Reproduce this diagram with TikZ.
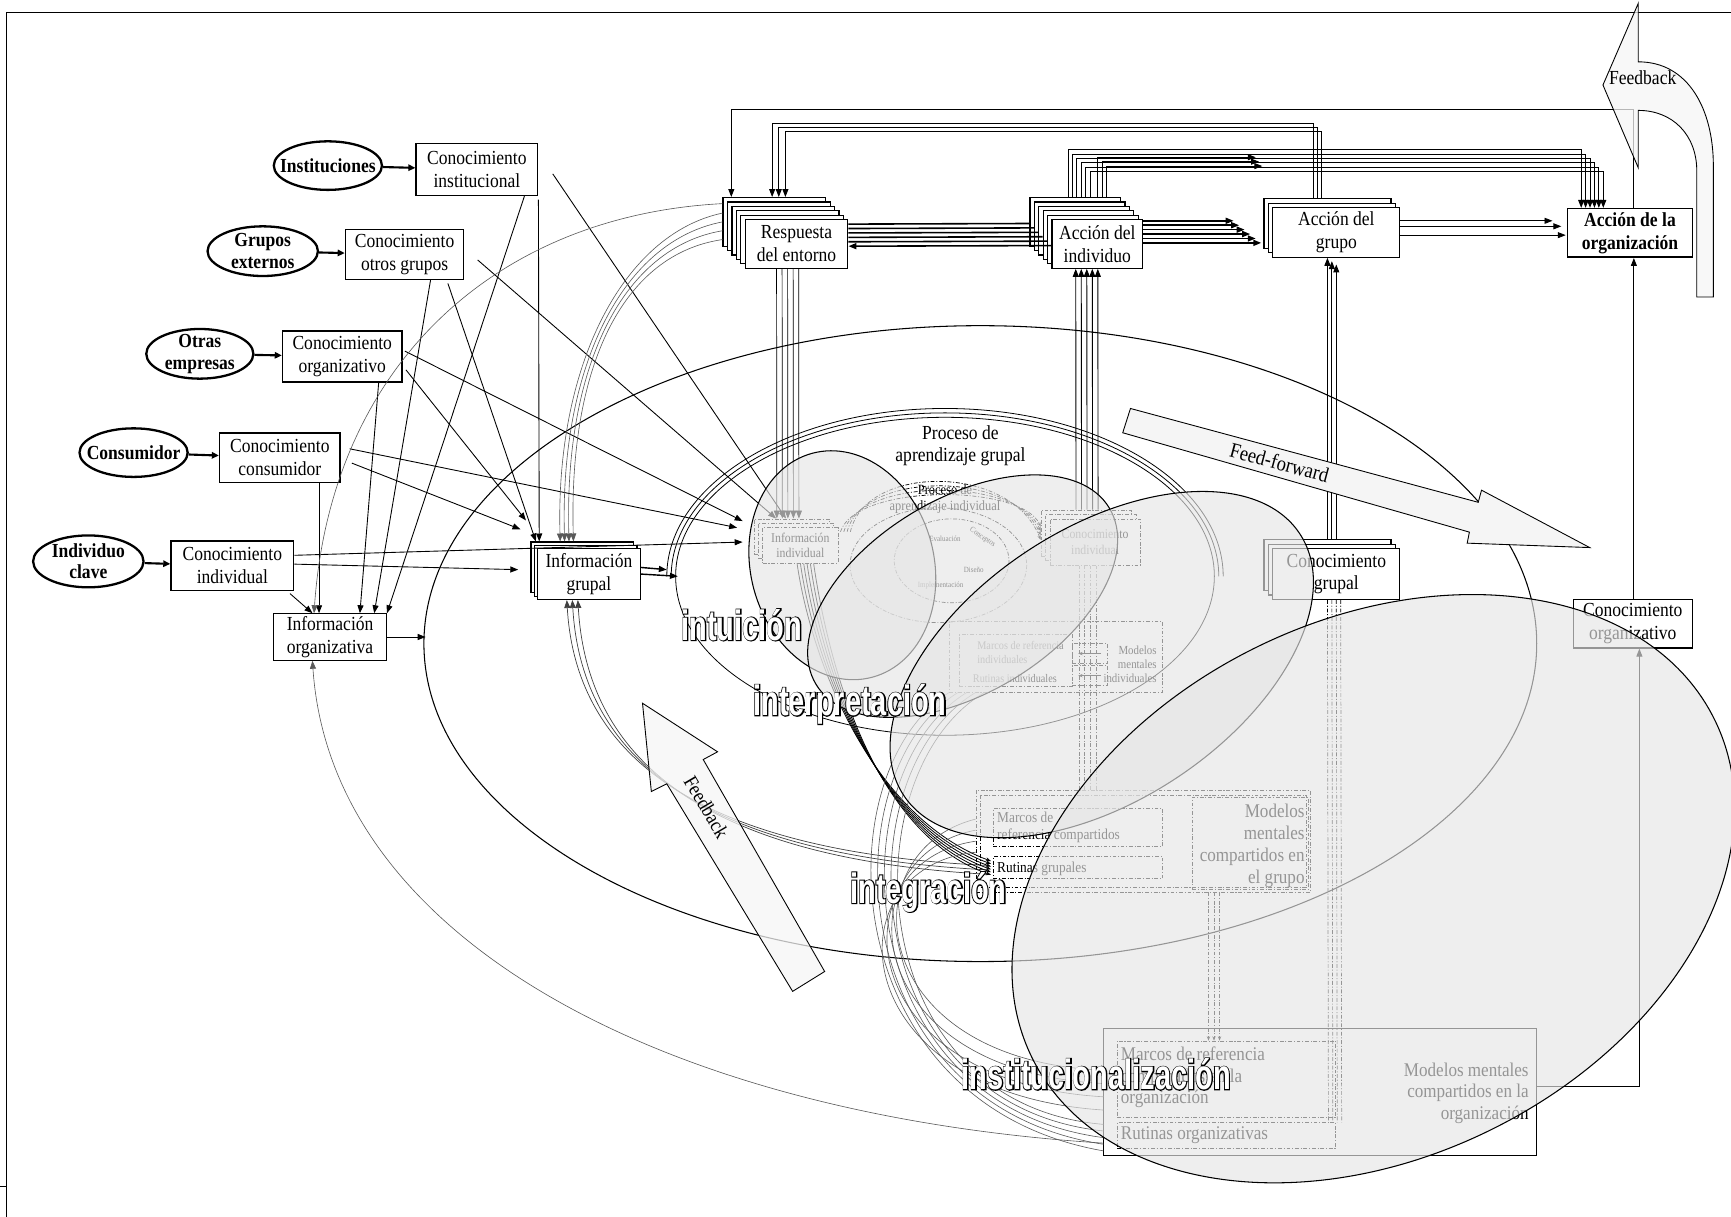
\documentclass[tikz,border=0pt]{standalone}
\usepackage{fontspec}
\setmainfont{Liberation Serif}[FakeStretch=0.88]
\newfontfamily\wordfont{Liberation Sans}[FakeStretch=0.685]
\newfontfamily\rimfont{Liberation Sans}[FakeStretch=0.685, FakeBold=4.5]
\usetikzlibrary{arrows.meta,shapes.geometric,calc}

% white letters with a black rim, used for the four stage names
\newcommand\rimtext[1]{\leavevmode\rlap{\rimfont\bfseries #1}{\color{white}#1}}

\begin{document}
\begin{tikzpicture}[x=0.022cm, y=-0.022cm,
  sz/.style 2 args={minimum width=#1*0.022cm, minimum height=#2*0.022cm},
  mtxt/.style={font=\fontsize{11.3}{13}\selectfont},
  kbox/.style={draw, fill=white, line width=0.9pt, align=center, inner sep=1pt, mtxt},
  abox/.style={draw, fill=white, line width=0.7pt, align=center, inner sep=1pt, mtxt},
  src/.style={ellipse, draw, line width=1.3pt, fill=white, inner sep=0pt},
  srct/.style={align=center, inner sep=0pt, font=\fontsize{11.3}{12.2}\selectfont\bfseries},
  hd/.style={-{Triangle[length=4.5pt,width=3.4pt]}},
  lnk/.style={line width=0.5pt, hd},
  feed/.style={line width=1.2pt, -{Triangle[length=4pt,width=3.6pt]}},
  fat/.style={line width=0.9pt},
  faint/.style={line width=0.35pt, black!65},
  dsh/.style={line width=0.4pt, dash pattern=on 2.2pt off 1pt on 0.6pt off 1pt},
  ibox/.style={draw, dsh, align=center, inner sep=0.5pt},
  lbl/.style={inner sep=0pt},
  fog/.style={fill=black!10, fill opacity=0.65, draw=black, line width=0.6pt},
  bigarrow/.style={fill=black!4, draw=black, line width=0.5pt},
  word/.style={font=\wordfont\bfseries\fontsize{24}{24}\selectfont, inner sep=0pt},
]
\useasboundingbox (0,0) rectangle (1568,1102);

% frame
\draw[line width=0.6pt] (5.5,1102) -- (5.5,11) -- (1568,11);
\draw[line width=0.6pt] (0,1075) -- (5.5,1075);

% organisational and group learning ellipses
\draw[line width=0.6pt] (888,583) ellipse (504 and 288);
\draw[line width=0.45pt] (856,522) ellipse (244 and 144);
\foreach \r in {4,8}{\draw[line width=0.45pt] ({856-244-\r},522) arc[start angle=180, end angle=360, x radius={244+\r}, y radius={144+\r}];}

% external sources
\node[src, sz={98}{44}] (einst) at (297,150) {};
\node[srct] (einst-t) at (einst) {Instituciones};
\node[src, sz={100}{45}] (egrup) at (238,227.5) {};
\node[srct] (egrup-t) at (egrup) {Grupos\\externos};
\node[src, sz={97}{45}] (eotras) at (181,320.5) {};
\node[srct] (eotras-t) at (eotras) {Otras\\empresas};
\node[src, sz={98}{44}] (econs) at (121,410) {};
\node[srct] (econs-t) at (econs) {Consumidor};
\node[src, sz={100}{47}] (eind) at (80,508.5) {};
\node[srct] (eind-t) at (eind) {Individuo\\clave};

% knowledge boxes
\node[kbox, sz={110}{47}] (cinst) at (432,153.5) {Conocimiento\\institucional};
\node[kbox, sz={107}{45}] (cgrup) at (366.5,230.5) {Conocimiento\\otros grupos};
\node[kbox, sz={108}{46}] (corg) at (310,323) {Conocimiento\\organizativo};
\node[kbox, sz={109}{45}] (ccons) at (253.5,414.5) {Conocimiento\\consumidor};
\node[kbox, sz={111}{45}] (cind) at (210.5,512.5) {Conocimiento\\individual};
\node[abox, sz={102}{42}] (iorg) at (299,577) {Información\\organizativa};

\foreach \k in {2,1}{\node[abox, sz={93}{46}] (igrup-l\k) at ({533.5-3*\k},{520-3*\k}) {};}
\node[abox, sz={93}{46}] (igrup) at (533.5,520) {Información\\grupal};

% action row
\foreach \k in {5,4,...,1}{\node[abox, sz={93}{44}] (resp-l\k) at ({721.5-4*\k},{221-4*\k}) {};}
\node[abox, sz={93}{44}] (resp) at (721.5,221) {Respuesta\\del entorno};
\foreach \k in {5,4,...,1}{\node[abox, sz={82}{44}] (aind-l\k) at ({994-4*\k},{221-4*\k}) {};}
\node[abox, sz={82}{44}] (aind) at (994,221) {Acción del\\individuo};
\foreach \k in {2,1}{\node[abox, sz={115}{45}] (agrp-l\k) at ({1210.5-4*\k},{210.5-4*\k}) {};}
\node[abox, sz={115}{45}] (agrp) at (1210.5,210.5) {Acción del\\grupo};
\node[kbox, sz={113}{44}, font=\fontsize{11.3}{13}\selectfont\bfseries] (aorg) at (1476.5,211) {Acción de la\\organización};

\foreach \k in {2,1}{\node[abox, sz={115}{46}] (cgrupal-l\k) at ({1210.5-4*\k},{520-4*\k}) {};}
\node[abox, sz={115}{46}] (cgrupal) at (1210.5,520) {Conocimiento\\grupal};
\node[abox, sz={108}{44}] (corg2) at (1479,565) {Conocimiento\\organizativo};

% individual learning process
\foreach \k in {2,1}{\node[ibox, fill=white, sz={68}{32}] (iind-l\k) at ({725-4*\k},{494-4*\k}) {};}
\node[ibox, fill=white, sz={68}{32}, font=\fontsize{7.6}{8.6}\selectfont] (iind) at (725,494) {Información\\individual};
\foreach \k in {2,1}{\node[ibox, fill=white, sz={82}{42}] (cind2-l\k) at ({992-4*\k},{491-4*\k}) {};}
\node[ibox, fill=white, sz={82}{42}, font=\fontsize{7.6}{8.6}\selectfont] (cind2) at (992,491) {Conocimiento\\individual};
\node[lbl, align=center, font=\fontsize{8}{9}\selectfont] (pai) at (856,452) {Proceso de\\aprendizaje individual};
\draw[dsh] (862,508) ellipse (52 and 38);
\draw[dsh] (850,512) ellipse (80 and 52);
\node[lbl, font=\fontsize{4.5}{5}\selectfont] (ev) at (856,488) {Evaluación};
\node[lbl, font=\fontsize{4.5}{5}\selectfont, rotate=-35] (co) at (890,487) {Conceptos};
\node[lbl, font=\fontsize{4.5}{5}\selectfont] (di) at (882,516) {Diseño};
\node[lbl, font=\fontsize{4.5}{5}\selectfont] (im) at (852,530) {Implementación};
\foreach \i in {0,...,3}{
  \draw[dsh, -{Stealth[length=2.5pt]}] ($(iind.north east)+({2+3*\i},4)$) .. controls ({775+3*\i},{438-6*\i}) and ({925-3*\i},{438-6*\i}) .. ($(cind2-l2.west)+(0,{-6+4*\i})$);}

% interpretation
\node[ibox, sz={193}{64}] (interp) at (956.5,595) {};
\node[ibox, sz={102}{47}] (interpm) at (920,598.5) {};
\node[lbl, anchor=north west, align=left, font=\fontsize{6.6}{7.6}\selectfont] (interpmt) at (885,581) {Marcos de referencia\\individuales};
\node[lbl, anchor=west, font=\fontsize{6.6}{7.6}\selectfont] (interprt) at (881,615) {Rutinas individuales};
\node[lbl, anchor=east, align=right, font=\fontsize{7}{7.9}\selectfont] (interpmm) at (1048,602) {Modelos\\mentales\\individuales};
\node[ibox, sz={32}{18}] (interpa) at (987,592) {};
\node[ibox, sz={32}{18}] (interpb) at (987,612) {};
\draw[line width=0.4pt, -{Stealth[length=2.5pt]}] ($(interpa.east)+(-6,0)$) -- ($(interpa.west)+(6,0)$);
\draw[line width=0.4pt, -{Stealth[length=2.5pt]}] ($(interpb.east)+(-6,0)$) -- ($(interpb.west)+(6,0)$);

% integration
\node[ibox, sz={303}{92}] (integ) at (1035.5,762) {};
\draw[dsh] (888,720) rectangle (1183,804);
\node[ibox, sz={153}{35}] (marg) at (976.5,749.5) {};
\node[lbl, anchor=north west, align=left, font=\fontsize{8.6}{10}\selectfont] (margt) at (903,735) {Marcos de\\referencia compartidos};
\node[ibox, sz={153}{20}] (rutg) at (976.5,786) {};
\node[lbl, anchor=west, font=\fontsize{8.6}{10}\selectfont] (rutgt) at (903,787) {Rutinas grupales};
\node[ibox, sz={105}{84}] (mmg) at (1132.5,764) {};
\node[lbl, anchor=east, align=right, font=\fontsize{11}{12.4}\selectfont] (mmgt) at (1182,766) {Modelos\\mentales\\compartidos en\\el grupo};

% institutionalisation
\node[draw, line width=0.6pt, sz={392}{115}] (inst) at (1196,989.5) {};
\node[ibox, sz={198}{69}] (instm) at (1111,977.5) {};
\node[lbl, anchor=north west, align=left, font=\fontsize{11}{12.2}\selectfont] (instmt) at (1015,948) {Marcos de referencia\\compartidos en la\\organización};
\node[ibox, sz={198}{23}] (instr) at (1111,1028.5) {};
\node[lbl, anchor=west, font=\fontsize{11}{12}\selectfont] (instrt) at (1015,1028) {Rutinas organizativas};
\node[lbl, anchor=east, align=right, font=\fontsize{11}{12.2}\selectfont] (mmot) at (1385,990) {Modelos mentales\\compartidos en la\\organización};

% sources feed knowledge
\draw[feed] (einst) -- (cinst);
\draw[feed] (egrup) -- (cgrup);
\draw[feed] (eotras) -- (corg);
\draw[feed] (econs) -- (ccons);
\draw[feed] (eind) -- (cind);

% knowledge to individual information
\draw[lnk] ($(cinst.east)+(13,4)$) -- ($(iind-l2.north)+(-5,0)$);
\draw[lnk] ($(cgrup.east)+(12,5)$) -- ($(iind-l2.north)+(-14,0)$);
\draw[lnk] ($(corg.east)+(2,-5)$) -- ($(iind-l2.west)+(-10,-14)$);
\draw[lnk] ($(ccons.east)+(8,-8)$) -- ($(iind-l2.west)+(-15,-8)$);
\draw[lnk] ($(cind.east)+(0,-9.5)$) -- ($(iind-l1.west)+(-14,1)$);
% knowledge to group information
\draw[lnk] ($(cinst.south east)+(0,3)$) -- ($(igrup-l2.north west)+(8,0)$);
\draw[lnk] ($(cgrup.south east)+(-15,3)$) -- ($(igrup-l2.north west)+(5,0)$);
\draw[lnk] ($(corg.east)+(3,12)$) -- ($(igrup-l2.north west)+(-4,-19)$);
\draw[lnk] ($(ccons.east)+(10,5)$) -- ($(igrup-l2.north west)+(-9,-11)$);
\draw[lnk] ($(cind.east)+(0,-1.5)$) -- ($(igrup-l2.west)+(-11,2)$);
% knowledge to organisational information
\draw[lnk] ($(cind.south east)+(-4,2)$) -- ($(iorg.north)+(-16,0)$);
\draw[lnk] ($(ccons.south)+(35.5,0)$) -- ($(iorg.north)+(-10,0)$);
\draw[lnk] ($(corg.south)+(33,0)$) -- ($(iorg.north)+(27,0)$);
\draw[lnk] ($(cgrup.south)+(23.5,0)$) -- ($(iorg.north)+(40,0)$);
\draw[lnk] ($(cinst.south)+(43,0)$) -- (iorg.north east);
\draw[lnk] (iorg.east) -- ++(35,0);

% group information into the group process
\coordinate (gleft) at (612,522);
\draw[lnk, line width=0.8pt] ($(igrup.east)+(0,-6)$) -- ($(gleft)+(-8,-6)$);
\draw[lnk, line width=0.8pt] (igrup.east) -- ($(gleft)+(2,0)$);

% action row connectors
\draw[lnk] ($(aorg.north)+(3.5,0)$) -- ++(0,-89) -| ($(resp-l5.north west)+(8,0)$);
\foreach \i in {0,1,2}{
  \draw[lnk] ($(agrp-l2.north west)+({45+4*\i},0)$) -- ++(0,{-68+4*\i}) -| ($(resp-l5.north west)+({45+6*\i},0)$);}
\foreach \i in {0,...,5}{
  \draw[lnk] ($(aind-l5.north west)+({35+4*\i},0)$) -- ++(0,{-43+4*\i}) -| ($(aorg.north west)+({13+4*\i},0)$);}
\foreach \i in {0,1,2}{
  \draw[lnk] ($(aind-l5.north west)+({62+4*\i},0)$) |- ($(agrp-l2.north west)+({-7+3*\i},{-37+4*\i})$);}
\foreach \i in {0,...,4}{
  \draw[fat] ($(aind-l5.north west)+({4*\i},{24+4*\i})$) -- ($(resp.east)+(0,{-18+4*\i})$);}
\draw[fat, hd] ($(aind-l5.north west)+(20,44)$) -- ($(resp.east)+(0,2)$);
\foreach \i in {0,...,5}{
  \draw[fat, hd] ($(aind.east)+(0,{-21+4*\i})$) -- ($(agrp-l2.west)+({-27+5*\i},{-2.5+4*\i})$);}
\draw[lnk] ($(agrp.east)+(0,-10.5)$) -- ($(aorg.west)+(-13,-11)$);
\draw[lnk] ($(agrp.east)+(0,-5.5)$) -- ($(aorg.west)+(-5,-6)$);
\draw[lnk] ($(agrp.east)+(0,2.5)$) -- ($(aorg.west)+(-1,2)$);
\foreach \i in {0,1,2}{
  \draw[lnk] ($(cgrupal-l2.north west)+({58+4*\i},0)$) -- ($(agrp.south west)+({50+4*\i},{3*\i})$);}
\draw[lnk] ($(corg2.north)+(1,0)$) -- ($(aorg.south)+(3.5,0)$);
\draw[lnk] ($(inst.north east)+(0,53)$) -| ($(corg2.south)+(6,0)$);
\foreach \i in {0,...,4}{
  \draw[lnk, line width=0.4pt] ($(resp.south west)+({29+5*\i},0)$) -- ($(iind-l2.north west)+({21+5*\i},0)$);
  \draw[lnk] ($(cind2-l2.north west)+({32+5*\i},0)$) -- ($(aind.south west)+({22+5*\i},0)$);}

% links across the learning levels
\foreach \i in {0,...,3}{
  \draw[dsh] ($(cind2.south west)+({27+5*\i},0)$) -- ($(integ.north west)+({94+5*\i},0)$);
  \draw[dsh] ($(cgrupal.south west)+({50+4*\i},0)$) -- ($(instr.north east)+({-7+4*\i},0)$);}
\foreach \i in {0,1,2}{
  \draw[dsh, -{Stealth[length=2.5pt]}] ($(integ.south west)+({211+5*\i},0)$) -- ($(instm.north west)+({83+5*\i},0)$);}

% feedback curves
\foreach \i in {0,...,3}{
  \draw[lnk, faint] ($(resp-l5.west)+(0,{-8+8*\i})$) .. controls (565,{212+6*\i}) and ({503+4*\i},330) .. ($(igrup-l2.north west)+({27+4*\i},0)$);}
\draw[lnk, faint] ($(resp-l5.north west)+(0,6)$) .. controls (450,195) and (300,330) .. ($(iorg.north west)+(37,0)$);
\draw[lnk, faint] ($(inst.south west)+(0,-12)$) .. controls (600,1010) and (300,850) .. ($(iorg.south)+(-16,0)$);
\foreach \i in {0,1,2}{
  \draw[lnk, line width=0.4pt, black!75] ($(rutg.west)+(-4,{-2+4*\i})$) .. controls (640,{772+3*\i}) and ({522+5*\i},690) .. ($(igrup.south west)+({27+5*\i},0)$);}
\foreach \i in {0,...,5}{
  \draw[line width=0.45pt, -{Stealth[length=3pt]}] ($(iind.south)+({-3+3*\i},0)$) .. controls ({735+3*\i},600) and (790,{740+3*\i}) .. ($(rutg.west)+(-2,{-6+2.5*\i})$);}
\foreach \i in {0,...,3}{
  \draw[faint] ($(integ.west)+(0,{-20+10*\i})$) .. controls ({770-6*\i},{770+5*\i}) and ({780-6*\i},{960+10*\i}) .. ($(inst.west)+(0,{-20+12*\i})$);}
\foreach \i in {0,...,4}{
  \draw[faint] ($(interp.south west)+({8*\i},0)$) .. controls ({745+6*\i},700) and ({755+6*\i},1000) .. ($(inst.south west)+(0,{-5-6*\i})$);}

% the four translucent learning stages
\draw[fog, shift={(763,512)}, rotate=15] (0,0) ellipse (83 and 105);
\draw[fog, shift={(872,540)}, rotate=31] (0,0) ellipse (155 and 88);
\draw[fog, shift={(998,602)}, rotate=33.5] (0,0) ellipse (215 and 123);
\draw[fog, shift={(1244,805)}, rotate=26.5] (0,0) ellipse (345 and 243);

\node[mtxt, align=center, font=\fontsize{11.3}{12.5}\selectfont] (pag) at (870,404) {Proceso de\\aprendizaje grupal};

% broad arrows
\draw[bigarrow] (1024,370) -- (1339,455) -- (1342,444) -- (1440,496) -- (1329,492) -- (1331,482) -- (1017,392) -- cycle;
\node[rotate=-15, font=\fontsize{12}{12}\selectfont] (fft) at (1159,419) {Feed-forward};
\draw[bigarrow, fill opacity=0.75] (582,637) -- (650,681) -- (637,688) -- (747,880) -- (718,898) -- (604,710) -- (590,717) -- cycle;
\node[rotate=-59.5, font=\fontsize{11.5}{11.5}\selectfont] (fbt) at (640,731) {Feedback};
\draw[bigarrow, fill opacity=0.75] (1452,77) -- (1484,3) -- (1484,56) .. controls (1530,56) and (1552,100) .. (1552,150) -- (1552,269) -- (1537,269) -- (1537,155) .. controls (1537,122) and (1515,100) .. (1484,100) -- (1484,152) -- cycle;
\node[font=\fontsize{11.3}{11.3}\selectfont] (fbt2) at (1488,70) {Feedback};

% stage names
\node[word] (wint) at (672,566) {\rimtext{intuición}};
\node[word] (wintp) at (770,638) {\rimtext{interpretación}};
\node[word] (wintg) at (841,808) {\rimtext{integración}};
\node[word] (winst) at (993,973) {\rimtext{institucionalización}};
\end{tikzpicture}
\end{document}
